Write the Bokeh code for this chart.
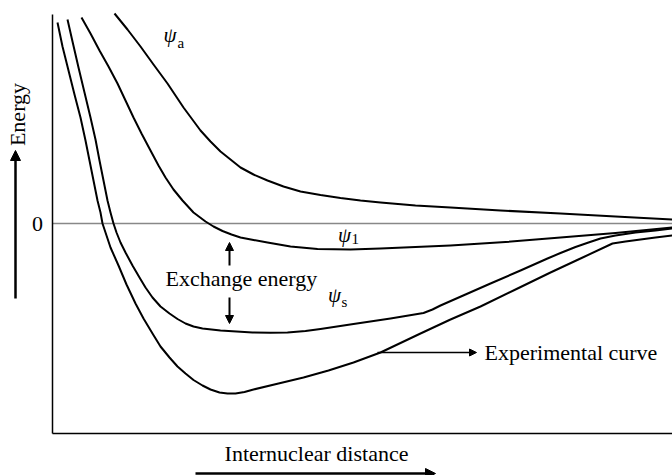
import math
from bokeh.plotting import figure
from bokeh.models import Range1d, Arrow, NormalHead
from bokeh.core.properties import value
from bokeh.embed import file_html
from bokeh.resources import INLINE

# ---- data (arbitrary units): internuclear distance x, energy y ----
psi_a_x = [6.2, 7.5, 8.8, 10.1, 11.5, 13.1, 14.8, 15.8, 16.8, 17.8, 18.8, 20.1, 21.5, 23.1, 24.8,
           26.8, 28.8, 30.8, 32.8, 36.3, 39.8, 44.8, 50.8, 56.3, 62.0]
psi_a_y = [21.0, 19.4, 17.7, 15.9, 14.0, 11.6, 9.3, 8.2, 7.2, 6.4, 5.6, 4.9, 4.3, 3.7, 3.2,
           2.85, 2.55, 2.3, 2.1, 1.8, 1.6, 1.3, 1.0, 0.7, 0.4]

psi_1_x = [2.9, 3.8, 4.7, 5.6, 6.5, 7.3, 8.1, 8.9, 9.8, 10.6, 11.3, 12.1, 13.0, 14.1, 15.3, 16.1,
           17.0, 17.9, 18.8, 20.1, 21.5, 23.8, 26.5, 29.8, 32.8, 36.3, 39.8, 45.3, 50.8, 56.3, 62.0]
psi_1_y = [20.6, 19.0, 17.3, 15.7, 14.0, 12.3, 10.6, 9.0, 7.3, 5.8, 4.6, 3.4, 2.3, 1.1, 0.2, -0.3,
           -0.75, -1.1, -1.4, -1.65, -1.9, -2.3, -2.55, -2.6, -2.5, -2.35, -2.2, -1.85, -1.4, -0.95, -0.4]

psi_s_x = [1.5, 2.0, 2.6, 3.2, 3.8, 4.3, 4.7, 5.1, 5.5, 5.8, 6.1, 6.4, 6.8, 7.3, 8.0, 8.7, 9.3,
           10.0, 10.8, 11.7, 12.5, 13.3, 14.1, 15.0, 16.8, 18.4, 20.0, 21.8, 23.5, 25.3, 26.8,
           30.1, 33.8, 37.1, 38.0, 38.8, 41.3, 43.8, 46.8, 49.5, 50.8, 52.3, 53.6, 54.8, 56.3,
           58.3, 60.3, 62.0]
psi_s_y = [20.4, 18.2, 15.6, 13.1, 10.6, 8.4, 6.3, 4.3, 2.3, 1.1, 0.0, -0.9, -1.9, -2.9, -4.2, -5.4, -6.4,
           -7.4, -8.3, -9.0, -9.55, -10.0, -10.3, -10.5, -10.7, -10.8, -10.9, -10.93, -10.9, -10.75, -10.55,
           -10.05, -9.5, -8.95, -8.6, -8.2, -7.1, -6.0, -4.7, -3.5, -2.95, -2.35, -1.9, -1.5, -1.2,
           -0.9, -0.7, -0.5]

exp_x = [0.5, 1.0, 1.6, 2.2, 2.8, 3.3, 3.7, 4.1, 4.5, 4.8, 5.0, 5.4, 5.8, 6.6, 7.4, 8.3, 9.1,
         10.0, 10.8, 11.7, 12.5, 13.3, 14.1, 15.0, 15.8, 16.7, 17.5, 18.3, 19.2, 20.1, 22.6, 25.1,
         27.6, 30.1, 32.8, 34.8, 36.8, 39.8, 42.8, 46.3, 49.8, 52.8, 56.0, 57.3, 58.8, 60.3, 62.0]
exp_y = [20.1, 17.7, 15.3, 12.9, 10.6, 8.3, 6.3, 4.3, 2.3, 1.1, 0.0, -1.2, -2.4, -4.2, -6.1, -8.0, -9.5,
         -11.0, -12.3, -13.4, -14.3, -15.0, -15.65, -16.2, -16.6, -16.9, -17.0, -17.0, -16.85, -16.6, -16.0, -15.4,
         -14.7, -13.9, -12.9, -11.95, -11.0, -9.6, -8.3, -6.6, -4.9, -3.5, -2.0, -1.8, -1.6, -1.4, -1.2]

axis_x_max = 62.0
axis_y_min = -21.0
axis_y_max = 20.9

y_tick_values = [0]
y_tick_labels = ["0"]
x_title = "Internuclear distance"
y_title = "Energy"
exchange_label = "Exchange energy"
exp_label = "Experimental curve"
psi_names = ["a", "1", "s"]

FONT = value("Liberation Serif")
FS = "22px"

p = figure(width=672, height=475, output_backend="svg", toolbar_location=None,
           x_range=Range1d(-5.2, 62.0), y_range=Range1d(-25.2, 22.3),
           min_border=0, min_border_left=0, min_border_right=0,
           min_border_top=0, min_border_bottom=0)
p.axis.visible = False
p.grid.visible = False
p.outline_line_color = None
p.background_fill_color = "white"
p.border_fill_color = "white"

# zero line
p.line([0, axis_x_max], [0, 0], line_color="#888888", line_width=1.6)
# axes
p.line([0, 0], [axis_y_min, axis_y_max], line_color="black", line_width=1.5)
p.line([0, axis_x_max], [axis_y_min, axis_y_min], line_color="black", line_width=1.5)

# curves
for xs, ys in [(psi_a_x, psi_a_y), (psi_1_x, psi_1_y), (psi_s_x, psi_s_y), (exp_x, exp_y)]:
    p.line(xs, ys, line_color="black", line_width=2, line_join="round")

# tick label
p.text(x=[-1.5], y=y_tick_values, text=y_tick_labels, text_font=FONT, text_font_size=FS,
       text_align="center", text_baseline="middle", text_color="black")

# axis titles
p.text(x=[-3.5], y=[10.9], text=[y_title], angle=math.pi / 2, text_font=FONT,
       text_font_size=FS, text_align="center", text_baseline="middle", text_color="black")
p.text(x=[26.4], y=[-23.0], text=[x_title], text_font=FONT, text_font_size=FS,
       text_align="center", text_baseline="middle", text_color="black")

# annotation texts
p.text(x=[11.3], y=[-5.5], text=[exchange_label], text_font=FONT, text_font_size=FS,
       text_align="left", text_baseline="middle", text_color="black")
p.text(x=[43.2], y=[-12.9], text=[exp_label], text_font=FONT, text_font_size=FS,
       text_align="left", text_baseline="middle", text_color="black")

# psi labels
p.text(x=[11.75, 29.2, 28.2], y=[18.85, -1.1, -7.1], text=["ψ", "ψ", "ψ"], text_font=FONT,
       text_font_style="italic", text_font_size="21px", text_align="center",
       text_baseline="middle", text_color="black")
p.text(x=[12.5, 29.9, 28.9], y=[18.1, -1.5, -7.8], text=psi_names, text_font=FONT,
       text_font_size="15px", text_align="left", text_baseline="middle", text_color="black")

# arrows
def arrow(x0, y0, x1, y1, size=9, lw=2):
    p.add_layout(Arrow(end=NormalHead(size=size, fill_color="black", line_color="black"),
                       x_start=x0, y_start=y0, x_end=x1, y_end=y1,
                       line_color="black", line_width=lw))

arrow(-3.7, -7.5, -3.7, 7.3, size=10, lw=2.5)     # energy arrow
arrow(14.3, -25.0, 38.3, -25.0, size=10, lw=2.5)  # distance arrow
arrow(17.7, -4.2, 17.7, -1.9, size=8, lw=2)       # exchange up
arrow(17.7, -7.4, 17.7, -10.0, size=8, lw=2)      # exchange down
arrow(32.5, -12.9, 42.4, -12.9, size=7, lw=1.5)   # experimental curve

open("out.html", "w").write(file_html(p, INLINE))
